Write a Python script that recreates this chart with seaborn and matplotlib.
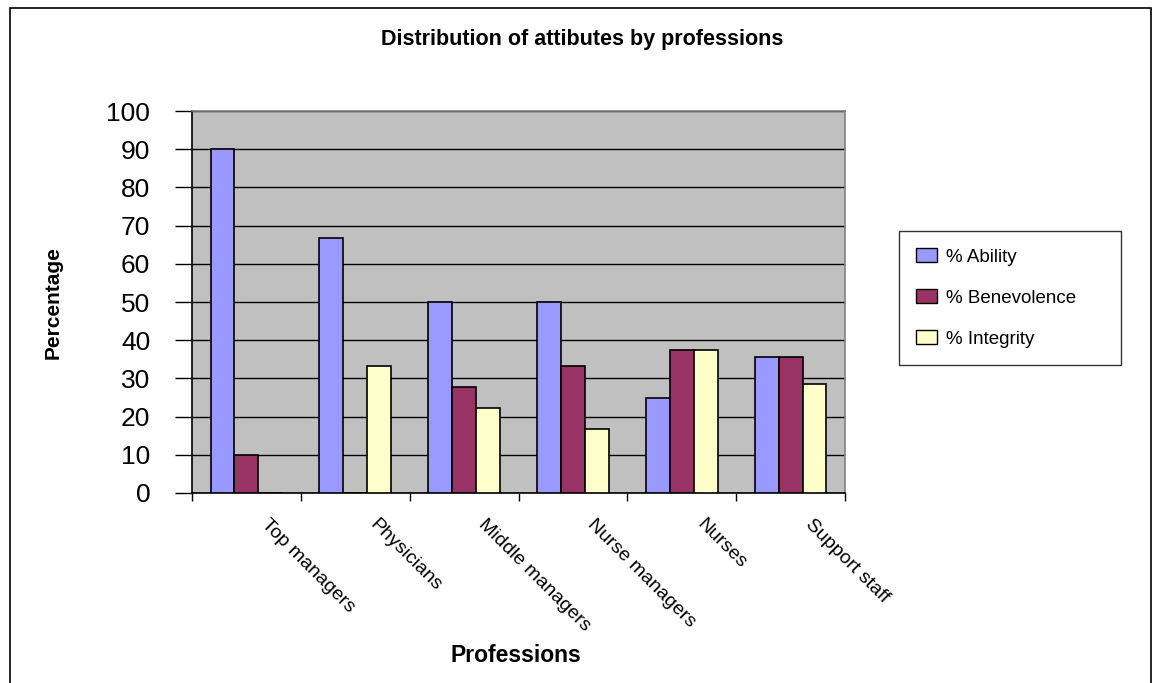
import numpy as np
import pandas as pd
import matplotlib
matplotlib.use("Agg")
import matplotlib.pyplot as plt
import matplotlib.patches as mpatches
import seaborn as sns

# Data
professions = ["Top managers", "Physicians", "Middle managers",
               "Nurse managers", "Nurses", "Support staff"]
series = ["% Ability", "% Benevolence", "% Integrity"]
ability = [90.0, 66.7, 50.0, 50.0, 25.0, 35.7]
benevolence = [10.0, 0.0, 27.8, 33.3, 37.5, 35.7]
integrity = [0.0, 33.3, 22.2, 16.7, 37.5, 28.6]
y_ticks = list(range(0, 101, 10))

colors = ["#9999FF", "#993366", "#FFFFCC"]

df = pd.DataFrame({
    "Profession": professions * 3,
    "Series": [series[0]] * 6 + [series[1]] * 6 + [series[2]] * 6,
    "Value": ability + benevolence + integrity,
})

sns.set_style("white")
plt.rcParams["font.family"] = ["Liberation Sans", "DejaVu Sans"]
plt.rcParams["text.color"] = "black"
plt.rcParams["xtick.color"] = "black"
plt.rcParams["ytick.color"] = "black"
plt.rcParams["axes.labelcolor"] = "black"

fig = plt.figure(figsize=(11.59, 6.83), dpi=100)
ax = fig.add_axes([192 / 1159, 1 - 493 / 683, 653 / 1159, 382 / 683])
ax.set_facecolor("#C0C0C0")

sns.barplot(
    data=df, x="Profession", y="Value", hue="Series",
    order=professions, hue_order=series, palette=colors,
    width=0.66, edgecolor="black", linewidth=1.2, saturation=1,
    errorbar=None, ax=ax, zorder=3
)

ax.set_ylim(0, 100)
ax.set_xlim(-0.5, len(professions) - 0.5)
ax.set_yticks(y_ticks)
ax.set_yticklabels([str(v) for v in y_ticks], fontsize=19)
ax.yaxis.grid(True, color="black", linewidth=1.0, zorder=0)
ax.set_axisbelow(True)

# tick marks at category boundaries, labels just right of the centres
ax.set_xticks(np.arange(-0.5, len(professions), 1.0))
ax.set_xticklabels([""] * (len(professions) + 1))
ax.set_xticks(np.arange(len(professions)) + 0.16, minor=True)
ax.set_xticklabels(professions, minor=True, rotation=-45, ha="left",
                   va="center", rotation_mode="anchor", fontsize=14)
ax.tick_params(axis="x", which="major", length=6, width=1, color="black",
               direction="out", bottom=True)
ax.tick_params(axis="x", which="minor", length=0, pad=21)
ax.tick_params(axis="y", length=12, width=1, color="black",
               direction="out", left=True, pad=18)

ax.set_xlabel("")
ax.set_ylabel("")
for side in ["left", "bottom"]:
    ax.spines[side].set_color("black")
    ax.spines[side].set_linewidth(1.2)
for side in ["top", "right"]:
    ax.spines[side].set_color("#808080")
    ax.spines[side].set_linewidth(1.2)

# legend
if ax.get_legend() is not None:
    ax.get_legend().remove()
handles = [mpatches.Patch(facecolor=c, edgecolor="black", linewidth=1.0)
           for c in colors]
leg = ax.legend(
    handles, series, loc="upper left",
    bbox_to_anchor=(899 / 1159, 1 - 360 / 683, 222 / 1159, 129 / 683),
    bbox_transform=fig.transFigure, mode="expand",
    frameon=True, fancybox=False, edgecolor="black", fontsize=13.5,
    handlelength=1.1, handleheight=0.8, handletextpad=0.5,
    labelspacing=1.25, borderpad=0.9, borderaxespad=0
)
leg.get_frame().set_linewidth(1.0)

# texts
fig.text(582 / 1159, 1 - 40 / 683, "Distribution of attibutes by professions",
         ha="center", va="center", fontsize=15.5, fontweight="bold")
fig.text(516 / 1159, 1 - 656 / 683, "Professions",
         ha="center", va="center", fontsize=16.5, fontweight="bold")
fig.text(53 / 1159, 1 - 303 / 683, "Percentage", rotation=90,
         ha="center", va="center", fontsize=15, fontweight="bold")

# outer chart border
fig.patches.append(mpatches.Rectangle(
    (9.5 / 1159, -0.05), (1151 - 9.5) / 1159, 1.05 - 7.5 / 683,
    transform=fig.transFigure, fill=False, edgecolor="black", linewidth=1.2))

fig.savefig("out.png", dpi=100)
